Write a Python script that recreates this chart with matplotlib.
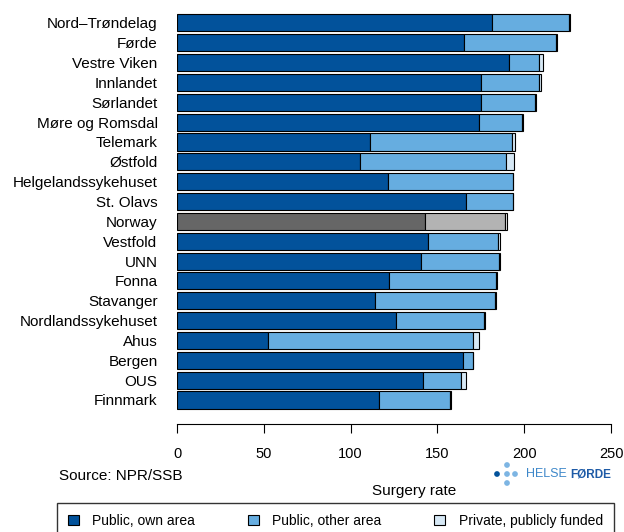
import matplotlib
matplotlib.use("Agg")
import matplotlib.pyplot as plt
import numpy as np

plt.rcParams['font.family'] = ['Liberation Sans', 'DejaVu Sans']

# data (rates per area)
areas = ["Nord\u2013Trøndelag", "Førde", "Vestre Viken", "Innlandet", "Sørlandet",
         "Møre og Romsdal", "Telemark", "Østfold", "Helgelandssykehuset", "St. Olavs",
         "Norway", "Vestfold", "UNN", "Fonna", "Stavanger", "Nordlandssykehuset",
         "Ahus", "Bergen", "OUS", "Finnmark"]
own_area = [181.4, 165.1, 191.2, 175.1, 175.1, 173.9, 111.0, 105.2, 121.3, 166.3,
            142.6, 144.6, 140.3, 122.1, 114.0, 125.9, 52.2, 164.5, 141.5, 116.2]
other_area = [44.4, 53.2, 17.3, 33.4, 31.1, 25.0, 82.0, 84.1, 72.2, 27.2,
              46.1, 40.3, 45.0, 61.8, 68.9, 50.7, 118.3, 5.8, 21.9, 41.3]
private = [0.8, 0.4, 2.3, 1.0, 0.6, 0.2, 1.5, 4.6, 0.2, 0.2,
           1.6, 1.3, 0.7, 0.3, 1.0, 0.8, 3.4, 0.2, 2.9, 0.5]

c_own, c_other, c_priv = "#02529b", "#66ade0", "#d6e8f5"
g_own, g_other, g_priv = "#666666", "#b3b3b3", "#e6e6e6"

fig = plt.figure(figsize=(6.24, 5.32), dpi=100)
ax = fig.add_axes([177/624, 108/532, 434/624, 414/532])

y = np.arange(len(areas))
own = np.array(own_area)
oth = np.array(other_area)
prv = np.array(private)
is_nor = np.array([a == "Norway" for a in areas])

col1 = [g_own if n else c_own for n in is_nor]
col2 = [g_other if n else c_other for n in is_nor]
col3 = [g_priv if n else c_priv for n in is_nor]

kw = dict(height=0.86, edgecolor="black", linewidth=0.8)
ax.barh(y, own, color=col1, **kw)
ax.barh(y, oth, left=own, color=col2, **kw)
ax.barh(y, prv, left=own + oth, color=col3, **kw)

ax.set_ylim(19 + 1.21, -0.65)
ax.set_xlim(0, 250)
ax.set_yticks(y)
ax.set_yticklabels(areas, fontsize=11)
ax.tick_params(axis="y", length=0, pad=14)
ax.set_xticks([0, 50, 100, 150, 200, 250])
ax.tick_params(axis="x", labelsize=10.5, length=6.5, pad=10, width=0.8)
for s in ["top", "right", "left"]:
    ax.spines[s].set_visible(False)
ax.spines["bottom"].set_linewidth(0.8)

fig.text(59/624, 1 - 476/532, "Source: NPR/SSB", fontsize=11, va="center", ha="left")
fig.text(414/624, 1 - 491/532, "Surgery rate", fontsize=11, va="center", ha="center")

# Helse Førde logo, drawn in a small overlay axes in pixel units
lax = fig.add_axes([490/624, 1 - 490/532, 125/624, 32/532])
lax.set_xlim(490, 615)
lax.set_ylim(490, 458)
lax.axis("off")
dots_x = [497, 507, 515, 507, 507]
dots_y = [474, 474, 474, 465, 483]
dot_c = ["#02529b", "#7db5e3", "#7db5e3", "#7db5e3", "#7db5e3"]
lax.scatter(dots_x, dots_y, s=17, c=dot_c, linewidths=0)
t1 = lax.text(526, 474, "HELSE ", fontsize=9, color="#3d87c9", va="center", ha="left")
lax.annotate("FØRDE", xy=(1, 0.5), xycoords=t1, va="center", ha="left",
             fontsize=8.5, color="#1d5aa6", fontweight="bold")

handles = [plt.Rectangle((0, 0), 1, 1, facecolor=c, edgecolor="black", linewidth=0.8)
           for c in (c_own, c_other, c_priv)]
fig.legend(handles, ["Public, own area", "Public, other area", "Private, publicly funded"],
           loc="upper left", bbox_to_anchor=(57/624, -0.5, 557/624, 0.5 + 29/532),
           mode="expand", ncol=3, fontsize=10, frameon=True, fancybox=False,
           edgecolor="black", handlelength=0.75, handleheight=0.75, borderpad=0.8,
           borderaxespad=0, columnspacing=1.0, handletextpad=1.0)

fig.savefig("out.png", dpi=100)
